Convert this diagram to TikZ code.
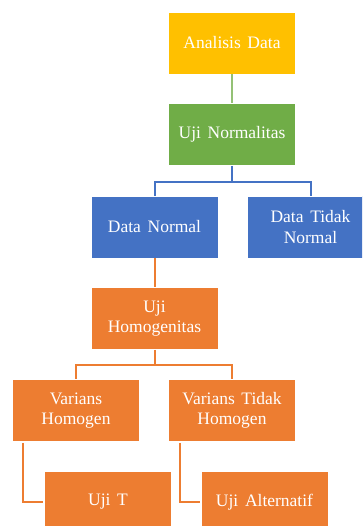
\documentclass[tikz,border=0pt]{standalone}
\usepackage{fontspec}
\setmainfont{Liberation Serif}
\definecolor{cgold}{HTML}{FFC000}
\definecolor{cgreen}{HTML}{70AD47}
\definecolor{cblue}{HTML}{4472C4}
\definecolor{corange}{HTML}{ED7D31}
\newcommand{\myboxfont}{\fontsize{17.5}{20.5}\selectfont}
\newcommand{\wsp}{\hspace{0.38em}}
\begin{document}
\begin{tikzpicture}[x=1pt,y=-1pt,
  box/.style={draw=white, line width=0.8pt, text=white, align=center,
    minimum width=127pt, minimum height=62pt, inner sep=0pt,
    font=\myboxfont},
  conn/.style={line width=2pt}]
\useasboundingbox (0,0) rectangle (362,526);
\clip (0,0) rectangle (362,526);
\fill[white] (0,0) rectangle (362,526);
\node[box, fill=cgold]   (ad)  at (232,43)    {Analisis\wsp Data};
\node[box, fill=cgreen]  (un)  at (232,134.5) {Uji\wsp Normalitas};
\node[box, fill=cblue]   (dn)  at (154.5,227) {Data\wsp Normal};
\node[box, fill=cblue]   (dtn) at (310.5,227) {Data\wsp Tidak\\Normal};
\node[box, fill=corange] (uh)  at (154.5,318.5) {Uji\\Homogenitas};
\node[box, fill=corange] (vh)  at (76,410.5)  {Varians\\Homogen};
\node[box, fill=corange] (vth) at (232,410.5) {Varians\wsp Tidak\\Homogen};
\node[box, fill=corange] (ut)  at (108,502)   {Uji\wsp T};
\node[box, fill=corange] (ua)  at (264.5,502) {Uji\wsp Alternatif};
% connectors
\draw[conn, draw=cgreen!75!white] (ad.south) -- (un.north);
\coordinate (bj) at ([yshift=-16pt]un.south);
\draw[conn, draw=cblue] (un.south) -- (bj) -| (dn.north);
\draw[conn, draw=cblue] (bj) -| (dtn.north);
\draw[conn, draw=corange] (dn.south) -- (uh.north);
\coordinate (oj) at ([yshift=-15pt]uh.south);
\draw[conn, draw=corange] (uh.south) -- (oj) -| (vh.north);
\draw[conn, draw=corange] (oj) -| (vth.north);
\draw[conn, draw=corange] ([xshift=11pt,yshift=-1pt]vh.south west) |- ([xshift=-1pt]ut.west);
\draw[conn, draw=corange] ([xshift=12pt,yshift=-1pt]vth.south west) |- ([xshift=-1pt]ua.west);
\end{tikzpicture}
\end{document}
